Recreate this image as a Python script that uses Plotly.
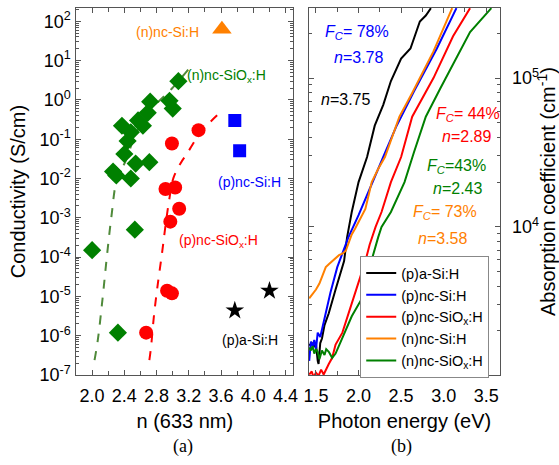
import plotly.graph_objects as go

W, H = 559, 465

# ---------------- Panel (a): conductivity vs refractive index ----------------
n_nSiOx = [2.00, 2.32, 2.53, 2.26, 2.48, 2.54, 2.71, 2.40, 2.44, 2.37, 2.48, 2.63,
           2.57, 2.69, 2.72, 2.96, 3.00, 3.07, 2.30]
s_nSiOx = [1.5e-4, 1.2e-6, 5e-4, 0.015, 0.010, 0.024, 0.026, 0.042, 0.09, 0.22, 0.15, 0.22,
           0.30, 0.47, 0.90, 0.95, 0.60, 3.0, 0.012]

n_pSiOx = [2.99, 3.32, 2.91, 3.03, 3.08, 2.97, 2.93, 2.99, 2.67]
s_pSiOx = [0.078, 0.17, 0.0054, 0.0059, 0.0017, 8e-4, 1.4e-5, 1.2e-5, 1.2e-6]

n_pSi = [3.77, 3.83]
s_pSi = [0.30, 0.051]

n_nSi = [3.61]
s_nSi = [63]

n_paSi = [3.77, 4.20]
s_paSi = [4.4e-6, 1.4e-5]

fit_n_green = [2.03, 2.07, 2.13, 2.18, 2.24, 2.31, 2.42, 2.54, 2.75, 2.99, 3.20]
fit_s_green = [2.4e-7, 7.6e-7, 9e-6, 9e-5, 1.1e-3, 1e-2, 2.9e-2, 0.135, 0.62, 1.95, 6.2]

fit_n_red = [2.71, 2.73, 2.77, 2.82, 2.87, 2.91, 2.96, 3.01, 3.10, 3.18, 3.30, 3.40, 3.57]
fit_s_red = [2.4e-7, 5e-7, 3.7e-6, 2.5e-5, 1.4e-4, 6.3e-4, 3.2e-3, 1.05e-2, 2.5e-2,
             4.4e-2, 0.11, 0.20, 0.44]

cond_exponents = [-7, -6, -5, -4, -3, -2, -1, 0, 1, 2]

# ---------------- Panel (b): absorption spectra ----------------
E_paSi = [1.42, 1.45, 1.48, 1.50, 1.52, 1.53, 1.55, 1.57, 1.60, 1.65, 1.73, 1.83, 1.865,
          1.92, 2.00, 2.10, 2.19, 2.29, 2.38, 2.50, 2.61, 2.72, 2.79, 2.83, 2.85]
a_paSi = [1600, 1660, 1580, 1620, 1260, 1200, 1660, 1780, 2190, 2630, 3800, 5890, 8510,
          12600, 20000, 29500, 47900, 66100, 95500, 135000, 158000, 240000, 263000, 282000, 295000]

E_pSi = [1.42, 1.44, 1.46, 1.48, 1.50, 1.52, 1.55, 1.58, 1.615, 1.67, 1.75, 1.83, 1.88,
         2.00, 2.17, 2.29, 2.44, 2.65, 2.92, 3.15]
a_pSi = [1260, 1700, 1580, 1740, 1510, 1950, 1820, 2190, 2630, 3630, 5370, 7240, 8510,
         12000, 20000, 29500, 46800, 81300, 158000, 295000]

E_pSiOx = [1.42, 1.45, 1.47, 1.50, 1.53, 1.56, 1.59, 1.62, 1.65, 1.69, 1.73, 1.81, 1.90,
           2.00, 2.08, 2.13, 2.20, 2.27, 2.38, 2.50, 2.63, 2.88, 3.11, 3.31]
a_pSiOx = [1020, 1070, 980, 1050, 1000, 1100, 1020, 1120, 1200, 1320, 1620, 1950, 2820,
           4170, 5890, 7590, 10000, 12600, 20000, 29500, 55000, 100000, 191000, 295000]

E_nSi = [1.42, 1.46, 1.50, 1.54, 1.58, 1.615, 1.65, 1.69, 1.73, 1.77, 1.81, 1.85, 1.92,
         1.96, 2.08, 2.155, 2.23, 2.31, 2.48, 2.63, 2.88, 3.10]
a_nSi = [3310, 3550, 3800, 4170, 4790, 5370, 5620, 5890, 6170, 6460, 6610, 6920, 8910,
         9770, 13200, 20000, 24500, 29500, 55000, 79400, 151000, 295000]

E_nSiOx = [1.42, 1.44, 1.46, 1.48, 1.50, 1.52, 1.54, 1.57, 1.60, 1.62, 1.65, 1.69, 1.73,
           1.81, 1.92, 2.04, 2.13, 2.23, 2.27, 2.38, 2.54, 2.65, 2.79, 2.96, 3.31, 3.56]
a_nSiOx = [1550, 1480, 1580, 1410, 1510, 1450, 1290, 1480, 1380, 1510, 1450, 1320, 1410,
           1820, 2510, 3310, 5370, 8510, 10000, 12600, 20000, 31600, 55000, 85100, 204000, 295000]

abs_exponents = [3, 4, 5]

legend_names = ["(p)a-Si:H", "(p)nc-Si:H", "(p)nc-SiO<sub>x</sub>:H",
                "(n)nc-Si:H", "(n)nc-SiO<sub>x</sub>:H"]

C_BLACK, C_BLUE, C_RED, C_ORANGE, C_GREEN = "#000000", "#0000ff", "#ff0000", "#ff8000", "#008000"
C_GREEN_FIT = "#4f8a3a"
FONT = "Liberation Sans, Arial, sans-serif"
SERIF = "Liberation Serif, Times New Roman, serif"


def pow_ticks(exps):
    vals = [10.0 ** e for e in exps]
    text = ["10<sup>%d</sup>" % e for e in exps]
    minor = [k * 10.0 ** e for e in range(exps[0] - 1, exps[-1] + 1) for k in range(2, 10)]
    return vals, text, minor


fig = go.Figure()

# panel (a) fits
fig.add_trace(go.Scatter(x=fit_n_green, y=fit_s_green, mode="lines", line_shape="spline",
                         line=dict(color=C_GREEN_FIT, width=2, dash="dash"),
                         showlegend=False, xaxis="x", yaxis="y"))
fig.add_trace(go.Scatter(x=fit_n_red, y=fit_s_red, mode="lines", line_shape="spline",
                         line=dict(color=C_RED, width=2, dash="dash"),
                         showlegend=False, xaxis="x", yaxis="y"))
# panel (a) markers
fig.add_trace(go.Scatter(x=n_nSiOx, y=s_nSiOx, mode="markers",
                         marker=dict(symbol="diamond", size=14, color=C_GREEN),
                         showlegend=False, xaxis="x", yaxis="y"))
fig.add_trace(go.Scatter(x=n_pSiOx, y=s_pSiOx, mode="markers",
                         marker=dict(symbol="circle", size=14, color=C_RED),
                         showlegend=False, xaxis="x", yaxis="y"))
fig.add_trace(go.Scatter(x=n_pSi, y=s_pSi, mode="markers",
                         marker=dict(symbol="square", size=13, color=C_BLUE),
                         showlegend=False, xaxis="x", yaxis="y"))
fig.add_trace(go.Scatter(x=n_nSi, y=s_nSi, mode="markers",
                         marker=dict(symbol="triangle-up", size=17, color=C_ORANGE),
                         showlegend=False, xaxis="x", yaxis="y"))
fig.add_trace(go.Scatter(x=n_paSi, y=s_paSi, mode="markers",
                         marker=dict(symbol="star", size=14, color=C_BLACK),
                         showlegend=False, xaxis="x", yaxis="y"))

# panel (b) curves
curves = [(E_paSi, a_paSi, C_BLACK), (E_pSi, a_pSi, C_BLUE), (E_pSiOx, a_pSiOx, C_RED),
          (E_nSi, a_nSi, C_ORANGE), (E_nSiOx, a_nSiOx, C_GREEN)]
for (ex, ay, col), name in zip(curves, legend_names):
    fig.add_trace(go.Scatter(x=ex, y=ay, mode="lines", name=name,
                             line=dict(color=col, width=2), xaxis="x2", yaxis="y2"))

axcol = "#555555"
common_ax = dict(showline=True, linecolor=axcol, linewidth=1, mirror="allticks",
                 ticks="inside", ticklen=5, tickcolor=axcol, showgrid=False, zeroline=False,
                 tickfont=dict(family=FONT, size=18, color="black"),
                 title_font=dict(family=FONT, size=20, color="black"))

yv1, yt1, ym1 = pow_ticks(cond_exponents)
yv2, yt2, ym2 = pow_ticks(abs_exponents)

fig.update_layout(
    width=W, height=H, margin=dict(l=0, r=0, t=0, b=0),
    paper_bgcolor="white", plot_bgcolor="white",
    font=dict(family=FONT, color="black"),
    xaxis=dict(domain=[72.7 / W, 293.5 / W], range=[1.805, 4.495], tickmode="linear",
               tick0=2.0, dtick=0.4, tickformat=".1f", ticklabelstandoff=4,
               minor=dict(tickmode="linear", tick0=2.0, dtick=0.2, ticks="inside",
                          ticklen=4, tickcolor=axcol),
               title=dict(text="n (633 nm)", standoff=9), anchor="y", **common_ax),
    yaxis=dict(domain=[1 - 383.3 / H, 1 - 8.3 / H], type="log", range=[-7, 2.335],
               tickmode="array", tickvals=yv1, ticktext=yt1, ticklabelstandoff=1,
               minor=dict(tickmode="array", tickvals=ym1, ticks="inside", ticklen=3,
                          tickcolor=axcol),
               title=dict(text="Conductivity (S/cm)", standoff=8), anchor="x", **common_ax),
    xaxis2=dict(domain=[309.3 / W, 504.3 / W], range=[1.415, 3.665], tickmode="linear",
                tick0=1.5, dtick=0.5, tickformat=".1f", ticklabelstandoff=4,
                minor=dict(tickmode="linear", tick0=1.5, dtick=0.25, ticks="inside",
                           ticklen=4, tickcolor=axcol),
                title=dict(text="Photon energy (eV)", standoff=9), anchor="y2", **common_ax),
    yaxis2=dict(domain=[1 - 383.3 / H, 1 - 8.3 / H], type="log", range=[3.005, 5.47],
                side="right", tickmode="array", tickvals=yv2, ticktext=yt2, ticklabelstandoff=7,
                minor=dict(tickmode="array", tickvals=ym2, ticks="inside", ticklen=3,
                           tickcolor=axcol),
                title=dict(text="Absorption coefficient (cm<sup>-1</sup>)", standoff=3),
                anchor="x2", **common_ax),
    legend=dict(x=361.7 / W, y=1 - 261.7 / H, xanchor="left", yanchor="top",
                bgcolor="white", bordercolor="#888888", borderwidth=1,
                font=dict(family=FONT, size=14.5, color="black"), tracegroupgap=0,
                itemwidth=30),
)

# dashed 10^4 line and leader lines (panel b)
fig.add_shape(type="line", xref="x2 domain", yref="y2", x0=0, x1=1, y0=4, y1=4,
              line=dict(color="black", width=1, dash="dash"))
leaders = [(2.268, 5.066, 2.634, 4.90, C_BLUE), (2.0, 4.79, 2.19, 4.68, C_BLACK),
           (2.884, 5.0, 3.115, 4.825, C_RED), (2.71, 4.573, 2.92, 4.51, C_GREEN),
           (2.172, 4.31, 2.614, 4.125, C_ORANGE)]
for x0, y0, x1, y1, col in leaders:
    fig.add_shape(type="line", xref="x2", yref="y2", x0=x0, y0=y0, x1=x1, y1=y1,
                  line=dict(color=col, width=1))

# panel (a) labels
labels_a = [("(n)nc-Si:H", 2.93, 1.72, C_ORANGE),
            ("(n)nc-SiO<sub>x</sub>:H", 3.67, 0.62, C_GREEN),
            ("(p)nc-Si:H", 3.95, -2.08, C_BLUE),
            ("(p)nc-SiO<sub>x</sub>:H", 3.57, -3.58, C_RED),
            ("(p)a-Si:H", 3.96, -6.11, C_BLACK)]
for t, x, y, col in labels_a:
    fig.add_annotation(text=t, x=x, y=y, xref="x", yref="y", showarrow=False,
                       font=dict(family=FONT, size=14, color=col))

# panel (b) labels
FC = "<i>F</i><sub><i>C</i></sub>"
labels_b = [(FC + "= 78%", 1.976, 5.309, C_BLUE), ("<i>n</i>=3.78", 1.999, 5.138, C_BLUE),
            ("<i>n</i>=3.75", 1.849, 4.856, C_BLACK),
            (FC + "= 44%", 3.291, 4.757, C_RED), ("<i>n</i>=2.89", 3.268, 4.606, C_RED),
            (FC + "=43%", 3.153, 4.409, C_GREEN), ("<i>n</i>=2.43", 3.164, 4.258, C_GREEN),
            (FC + "= 73%", 3.014, 4.094, C_ORANGE), ("<i>n</i>=3.58", 2.991, 3.923, C_ORANGE)]
for t, x, y, col in labels_b:
    fig.add_annotation(text=t, x=x, y=y, xref="x2", yref="y2", showarrow=False,
                       font=dict(family=FONT, size=16, color=col))

# panel captions
for t, xp in [("(a)", 181), ("(b)", 404)]:
    fig.add_annotation(text=t, x=xp / W, y=1 - 456 / H, xref="paper", yref="paper",
                       xanchor="center", yanchor="middle", showarrow=False,
                       font=dict(family=SERIF, size=18, color="black"))

fig.write_html("out.html", config={"displayModeBar": False},
               post_script="document.body.style.margin='0';document.body.style.overflow='hidden';")
